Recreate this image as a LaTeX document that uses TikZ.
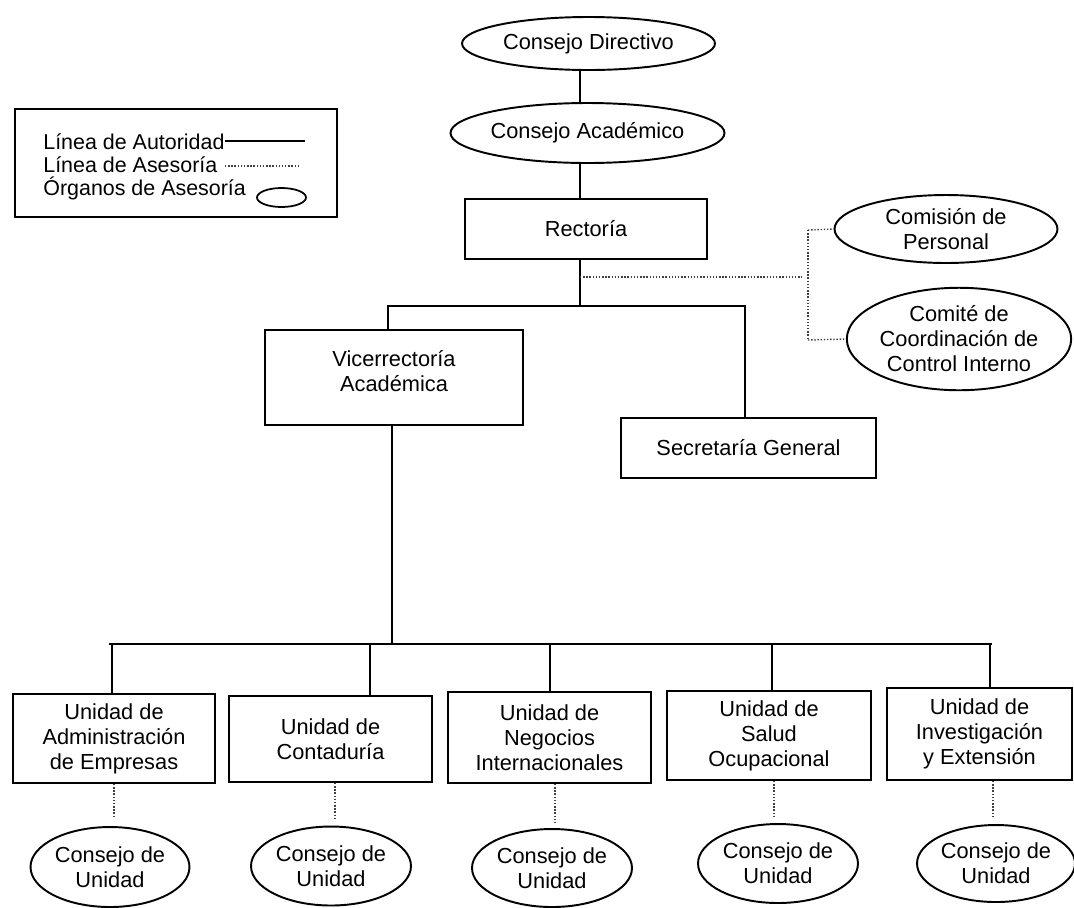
\documentclass[tikz,border=0pt]{standalone}
\usepackage{fontspec}
\setmainfont{Liberation Sans}
\usetikzlibrary{shapes.geometric}
\begin{document}
\begin{tikzpicture}[x=0.02cm,y=-0.02cm,
  every node/.style={font=\fontsize{12.4}{14.2}\selectfont, inner sep=0pt, align=center},
  orgbox/.style={draw, rectangle, line width=1.1pt},
  orgell/.style={draw, ellipse, line width=1.1pt},
  auth/.style={line width=1.1pt},
  adv/.style={densely dotted, line width=0.8pt, black!75},
  legtext/.style={anchor=west, font=\fontsize{12.2}{13.9}\selectfont}]
\useasboundingbox (0,0) rectangle (1074,907);

% legend
\node[orgbox, minimum width=6.44cm, minimum height=2.16cm] (lg) at (176,163) {};
\node[legtext] (t1) at (43,142) {Línea de Autoridad};
\node[legtext] (t2) at (43,165) {Línea de Asesoría};
\node[legtext] (t3) at (43,188) {Órganos de Asesoría};
\coordinate (l1b) at (305,141);
\coordinate (l2a) at (225,166);
\coordinate (l2b) at (300,166);
\node[orgell, line width=1pt, minimum width=0.98cm, minimum height=0.38cm] (lo) at (281.5,197.5) {};
\draw[auth] (t1.east |- l1b) -- (l1b);
\draw[adv] (l2a) -- (l2b);

% top
\node[orgell, minimum width=5.06cm, minimum height=1.06cm] (cd) at (588.5,43.5) {Consejo Directivo};
\node[orgell, minimum width=4.98cm, minimum height=1.2cm] (ca) at (587.5,133) {Consejo Académico};
\node[orgbox, minimum width=4.84cm, minimum height=1.2cm] (rec) at (586,229) {Rectoría};
\node[orgell, minimum width=4.46cm, minimum height=1.36cm] (cp) at (946,229) {Comisión de\\Personal};
\node[orgell, minimum width=4.46cm, minimum height=2.05cm] (cc) at (959,339) {Comité de\\Coordinación de\\Control Interno};
\node[orgbox, minimum width=5.16cm, minimum height=1.9cm, text depth=0.28cm] (vr) at (394,377.5) {Vicerrectoría\\Académica};
\node[orgbox, minimum width=5.1cm, minimum height=1.2cm] (sg) at (748.5,448) {Secretaría General};

\coordinate (sp) at (580,306);
\coordinate (jl) at (388,306);
\coordinate (jr) at (745,306);
\draw[auth] (cd.south -| sp) -- (ca.north -| sp);
\draw[auth] (ca.south -| sp) -- (rec.north -| sp);
\draw[auth] (rec.south -| sp) -- (sp);
\draw[auth] (jl |- vr.north) -- (jl) -- (jr) -- (jr |- sg.north);

% advisory
\coordinate (a0) at (580,277);
\coordinate (a1) at (802,277);
\coordinate (at) at (808,230);
\coordinate (ab) at (808,340);
\draw[adv] (a0) -- (a1);
\draw[adv] (at) -- (ab);
\draw[adv] (at) -- (cp.west);
\draw[adv] (ab) -- (cc.west);

% units
\node[orgbox, minimum width=4.04cm, minimum height=1.78cm] (u1) at (114,738.5) {Unidad de\\Administración\\de Empresas};
\node[orgbox, minimum width=4.06cm, minimum height=1.72cm] (u2) at (330.5,739) {Unidad de\\Contaduría};
\node[orgbox, minimum width=4.06cm, minimum height=1.82cm] (u3) at (549.5,737.5) {Unidad de\\Negocios\\Internacionales};
\node[orgbox, minimum width=4.08cm, minimum height=1.78cm] (u4) at (769,735.5) {Unidad de\\Salud\\Ocupacional};
\node[orgbox, minimum width=3.7cm, minimum height=1.84cm] (u5) at (979.5,734) {Unidad de\\Investigación\\y Extensión};

\coordinate (vb) at (392,644);
\coordinate (bl) at (109,644);
\coordinate (br) at (992,644);
\coordinate (d1) at (112,644);
\coordinate (d2) at (370,644);
\coordinate (d3) at (550,644);
\coordinate (d4) at (772,644);
\coordinate (d5) at (990,644);
\draw[auth] (vr.south -| vb) -- (vb);
\draw[auth] (bl) -- (br);
\draw[auth] (d1) -- (d1 |- u1.north);
\draw[auth] (d2) -- (d2 |- u2.north);
\draw[auth] (d3) -- (d3 |- u3.north);
\draw[auth] (d4) -- (d4 |- u4.north);
\draw[auth] (d5) -- (d5 |- u5.north);

% councils
\node[orgell, minimum width=3.18cm, minimum height=1.6cm] (e1) at (110,867) {Consejo de\\Unidad};
\node[orgell, minimum width=3.2cm, minimum height=1.58cm] (e2) at (331,866) {Consejo de\\Unidad};
\node[orgell, minimum width=3.2cm, minimum height=1.56cm] (e3) at (552,868) {Consejo de\\Unidad};
\node[orgell, minimum width=3.2cm, minimum height=1.58cm] (e4) at (778,863.5) {Consejo de\\Unidad};
\node[orgell, minimum width=3.16cm, minimum height=1.54cm] (e5) at (996,863.5) {Consejo de\\Unidad};

\coordinate (k1) at (114,817);
\coordinate (k2) at (335,820);
\coordinate (k3) at (555,824);
\coordinate (k4) at (774,817);
\coordinate (k5) at (993,818);
\draw[adv] (u1.south -| k1) -- (k1);
\draw[adv] (u2.south -| k2) -- (k2);
\draw[adv] (u3.south -| k3) -- (k3);
\draw[adv] (u4.south -| k4) -- (k4);
\draw[adv] (u5.south -| k5) -- (k5);
\end{tikzpicture}
\end{document}
